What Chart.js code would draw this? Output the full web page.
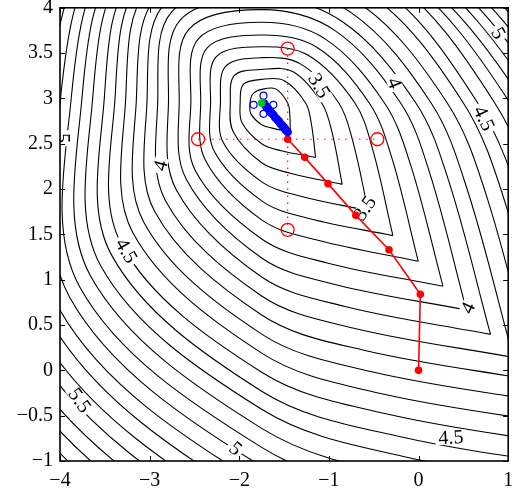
<!DOCTYPE html>
<html lang="en">
<head>
<meta charset="UTF-8">
<script src="https://cdn.jsdelivr.net/npm/chart.js"></script>
<title>Contour with search path</title>
<style>
  html, body { margin: 0; padding: 0; background: #fff; }
  .canvas { width: 516px; height: 495px; }
</style>
</head>
<body>
<div class="canvas">
  <canvas id="grafico" width="516" height="495"></canvas>
</div>
<script>
// contour levels, innermost first
const niveis = [3.2, 3.3, 3.4, 3.5, 3.6, 3.7, 3.8, 3.9, 4.0, 4.1, 4.2, 4.3, 4.4, 4.5,
                4.6, 4.7, 4.8, 4.9, 5.0, 5.1, 5.2, 5.3, 5.4, 5.5, 5.6, 5.7, 5.8, 5.9];

// contours measured along rays from the centre of the valley
const centro = [-1.75, 2.95];
// distance (axis units) where each level crosses the ray, one entry per level
const raioSE  = [0.45, 0.85, 1.27, 1.68, 2.07, 2.47, 2.86, 3.23, 3.61, 3.97, 4.33, 4.70, 5.06, 5.42,
                 5.79, 6.15, 6.52, 6.88, 7.24, 7.61, 7.97, 8.33, 8.70, 9.06, 9.43, 9.79, 10.15, 10.52];
const raioESE = [0.34, 0.60, 0.85, 1.10, 1.34, 1.57, 1.80, 2.03, 2.26, 2.48, 2.72, 2.95, 3.17, 3.41,
                 3.64, 3.85, 4.06, 4.26, 4.47, 4.68, 4.88, 5.09, 5.30, 5.50, 5.71, 5.92, 6.12, 6.33];
const raioE   = [0.29, 0.49, 0.67, 0.86, 1.04, 1.20, 1.37, 1.55, 1.72, 1.89, 2.07, 2.25, 2.41, 2.60,
                 2.77, 2.93, 3.08, 3.23, 3.38, 3.53, 3.68, 3.83, 3.98, 4.13, 4.28, 4.43, 4.58, 4.73];
const raioNE  = [0.22, 0.35, 0.49, 0.61, 0.74, 0.87, 1.00, 1.14, 1.27, 1.41, 1.55, 1.70, 1.84, 1.98,
                 2.09, 2.19, 2.30, 2.40, 2.50, 2.60, 2.70, 2.80, 2.90, 3.00, 3.10, 3.20, 3.30, 3.40];
const raioN   = [0.15, 0.26, 0.37, 0.50, 0.62, 0.75, 0.89, 1.03, 1.16, 1.29, 1.42, 1.55, 1.69, 1.82,
                 1.95, 2.08, 2.22, 2.35, 2.48, 2.61, 2.75, 2.88, 3.01, 3.14, 3.27, 3.41, 3.54, 3.67];
const raioNW  = [0.14, 0.29, 0.43, 0.57, 0.72, 0.86, 1.00, 1.15, 1.29, 1.42, 1.54, 1.66, 1.79, 1.90,
                 2.01, 2.12, 2.23, 2.34, 2.45, 2.56, 2.67, 2.78, 2.89, 3.00, 3.11, 3.22, 3.33, 3.44];
const raioW   = [0.13, 0.24, 0.35, 0.46, 0.57, 0.68, 0.79, 0.92, 1.04, 1.16, 1.28, 1.40, 1.52, 1.64,
                 1.76, 1.89, 2.01, 2.13, 2.25, 2.38, 2.51, 2.65, 2.78, 2.91, 3.04, 3.18, 3.31, 3.44];
const raioSW  = [0.17, 0.31, 0.45, 0.61, 0.75, 0.89, 1.05, 1.19, 1.35, 1.52, 1.69, 1.86, 2.03, 2.21,
                 2.37, 2.54, 2.70, 2.87, 3.03, 3.20, 3.36, 3.53, 3.69, 3.86, 4.02, 4.19, 4.35, 4.52];
const raioS   = [0.24, 0.45, 0.66, 0.87, 1.08, 1.29, 1.50, 1.71, 1.92, 2.13, 2.34, 2.55, 2.76, 2.97,
                 3.18, 3.38, 3.59, 3.80, 4.01, 4.22, 4.43, 4.64, 4.85, 5.06, 5.27, 5.48, 5.69, 5.90];
const raioSSE = [0.30, 0.57, 0.84, 1.11, 1.38, 1.64, 1.91, 2.17, 2.43, 2.69, 2.95, 3.21, 3.47, 3.72,
                 3.98, 4.23, 4.49, 4.75, 5.01, 5.27, 5.52, 5.78, 6.04, 6.30, 6.56, 6.82, 7.07, 7.33];

// labelled contours
const rotulosTexto = ['3.5', '3.5', '4', '4.5', '5', '4', '4.5', '5', '5.5', '5', '4', '4.5'];
const rotulosX     = [-1.11, -0.60, -0.27, 0.73, 0.89, -2.88, -3.26, -3.97, -3.78, -2.04, 0.55, 0.36];
const rotulosY     = [3.14, 1.79, 3.17, 2.78, 3.72, 2.26, 1.32, 2.56, -0.33, -0.86, 0.69, -0.74];

// red path (coarse steps)
const caminhoX = [0, 0.02, -0.33, -0.70, -1.01, -1.27, -1.46];
const caminhoY = [0, 0.84, 1.33, 1.71, 2.06, 2.35, 2.55];
// red poll points around the last red step
const sondaX = [-1.46, -2.46, -0.46, -1.46];
const sondaY = [3.55, 2.55, 2.55, 1.55];
// blue path (fine steps)
const finoX = [-1.46, -1.48, -1.50, -1.52, -1.54, -1.56, -1.58, -1.60, -1.62, -1.64, -1.66, -1.68, -1.70, -1.72];
const finoY = [2.63, 2.65, 2.68, 2.70, 2.72, 2.75, 2.77, 2.79, 2.82, 2.84, 2.86, 2.89, 2.91, 2.94];
// blue poll points around the end
const sondaFinaX = [-1.73, -1.84, -1.62, -1.73];
const sondaFinaY = [3.03, 2.93, 2.93, 2.83];
const finalX = [-1.75];
const finalY = [2.95];

// ticks
const ticksX = [-4, -3, -2, -1, 0, 1];
const ticksY = [-1, -0.5, 0, 0.5, 1, 1.5, 2, 2.5, 3, 3.5, 4];

const pares = (xs, ys) => xs.map((x, i) => ({x: x, y: ys[i]}));
const fmt = v => (v < 0 ? '\u2212' : '') + Math.abs(v);
const fonte = '"Liberation Serif", "DejaVu Serif", serif';

// ray table, starting at the pointed end (SE) of the loops
const raios = [[315, raioSE], [337.5, raioESE], [0, raioE], [45, raioNE], [90, raioN],
               [135, raioNW], [180, raioW], [225, raioSW], [270, raioS], [292.5, raioSSE]];

const conjuntos = [];
niveis.forEach((nv, i) => {
    const pts = raios.map(([ang, rr]) => ({
        x: centro[0] + rr[i] * Math.cos(ang * Math.PI / 180),
        y: centro[1] + rr[i] * Math.sin(ang * Math.PI / 180)
    }));
    pts.push(pts[0]);
    conjuntos.push({
        label: 'nivel ' + nv, data: pts, showLine: true,
        borderColor: '#000', borderWidth: 1.1, pointRadius: 0, pointHoverRadius: 0,
        tension: 0.35, order: 10, clip: 0
    });
});

conjuntos.push({
    data: pares([sondaX[1], sondaX[2]], [sondaY[1], sondaY[2]]), showLine: true,
    borderColor: '#ff0000', borderWidth: 1.2, borderDash: [1.5, 5.5], pointRadius: 0, order: 5
});
conjuntos.push({
    data: pares([sondaX[0], sondaX[3]], [sondaY[0], sondaY[3]]), showLine: true,
    borderColor: '#ff0000', borderWidth: 1.2, borderDash: [1.5, 5.5], pointRadius: 0, order: 5
});
conjuntos.push({
    data: pares(sondaX, sondaY), showLine: false,
    borderColor: '#ff0000', backgroundColor: 'rgba(0,0,0,0)', borderWidth: 1.3, pointRadius: 6.5, order: 4
});
conjuntos.push({
    data: pares(caminhoX, caminhoY), showLine: true,
    borderColor: '#ff0000', backgroundColor: '#ff0000', borderWidth: 1.6, pointRadius: 3, order: 3
});
conjuntos.push({
    data: pares(sondaFinaX, sondaFinaY), showLine: false,
    borderColor: '#0000ff', backgroundColor: 'rgba(0,0,0,0)', borderWidth: 1.2, pointRadius: 3.5, order: 2
});
conjuntos.push({
    data: pares(finoX, finoY), showLine: true,
    borderColor: '#0000ff', backgroundColor: '#0000ff', borderWidth: 3, pointRadius: 2.8, order: 1
});
conjuntos.push({
    data: pares(finalX, finalY), showLine: false,
    borderColor: '#00cc00', backgroundColor: '#00cc00', pointRadius: 3.5, order: 0
});

// contour labels drawn right after the last contour, before the paths
const rotulos = {
    id: 'rotulos',
    afterDatasetDraw(chart, args) {
        if (args.index !== 0) return;
        const {ctx, chartArea: a, scales: {x, y}} = chart;
        const angs = [60, -55, 68, 65, 60, -75, 60, 90, 55, 40, -65, -3];
        ctx.save();
        ctx.beginPath();
        ctx.rect(a.left, a.top, a.right - a.left, a.bottom - a.top);
        ctx.clip();
        ctx.font = '20px ' + fonte;
        ctx.textAlign = 'center';
        ctx.textBaseline = 'middle';
        rotulosTexto.forEach((t, i) => {
            const px = x.getPixelForValue(rotulosX[i]);
            const py = y.getPixelForValue(rotulosY[i]);
            const w = ctx.measureText(t).width;
            ctx.save();
            ctx.translate(px, py);
            ctx.rotate(angs[i] * Math.PI / 180);
            ctx.fillStyle = '#fff';
            ctx.fillRect(-w / 2 - 3, -7, w + 6, 14);
            ctx.fillStyle = '#000';
            ctx.fillText(t, 0, 1);
            ctx.restore();
        });
        ctx.restore();
    }
};

// box with inward ticks on all four sides
const moldura = {
    id: 'moldura',
    afterDraw(chart) {
        const {ctx, chartArea: a, scales: {x, y}} = chart;
        ctx.save();
        ctx.strokeStyle = '#000';
        ctx.lineWidth = 1;
        ticksX.forEach(v => {
            const p = Math.round(x.getPixelForValue(v)) + 0.5;
            ctx.beginPath();
            ctx.moveTo(p, a.bottom); ctx.lineTo(p, a.bottom - 5);
            ctx.moveTo(p, a.top); ctx.lineTo(p, a.top + 5);
            ctx.stroke();
        });
        ticksY.forEach(v => {
            const p = Math.round(y.getPixelForValue(v)) + 0.5;
            ctx.beginPath();
            ctx.moveTo(a.left, p); ctx.lineTo(a.left + 5, p);
            ctx.moveTo(a.right, p); ctx.lineTo(a.right - 5, p);
            ctx.stroke();
        });
        ctx.lineWidth = 1.6;
        ctx.strokeRect(a.left, a.top, a.right - a.left, a.bottom - a.top);
        ctx.restore();
    }
};

const semPadding = s => {
    s.paddingLeft = 0; s.paddingRight = 0; s.paddingTop = 0; s.paddingBottom = 0;
};

function desenhar() {
    new Chart(document.getElementById('grafico'), {
        type: 'scatter',
        data: {datasets: conjuntos},
        plugins: [rotulos, moldura],
        options: {
            responsive: false,
            animation: false,
            events: [],
            devicePixelRatio: 1,
            layout: {padding: {top: 7, right: 3, left: 0, bottom: 0}},
            elements: {line: {capBezierPoints: false}},
            plugins: {legend: {display: false}, tooltip: {enabled: false}},
            scales: {
                x: {
                    type: 'linear', min: -4, max: 1,
                    afterBuildTicks: s => { s.ticks = ticksX.map(v => ({value: v})); },
                    afterFit: s => { s.height = 34; semPadding(s); },
                    grid: {display: false, drawTicks: false},
                    border: {display: false},
                    ticks: {color: '#000', padding: 8, maxRotation: 0, font: {family: fonte, size: 20}, callback: fmt}
                },
                y: {
                    type: 'linear', min: -1, max: 4,
                    afterBuildTicks: s => { s.ticks = ticksY.map(v => ({value: v})); },
                    afterFit: s => { s.width = 60; semPadding(s); },
                    grid: {display: false, drawTicks: false},
                    border: {display: false},
                    ticks: {color: '#000', padding: 7, font: {family: fonte, size: 20}, callback: fmt}
                }
            }
        }
    });
}

Promise.all([
    document.fonts.load('20px "Liberation Serif"'),
    document.fonts.load('20px "DejaVu Serif"')
]).then(desenhar, desenhar);
</script>
</body>
</html>
